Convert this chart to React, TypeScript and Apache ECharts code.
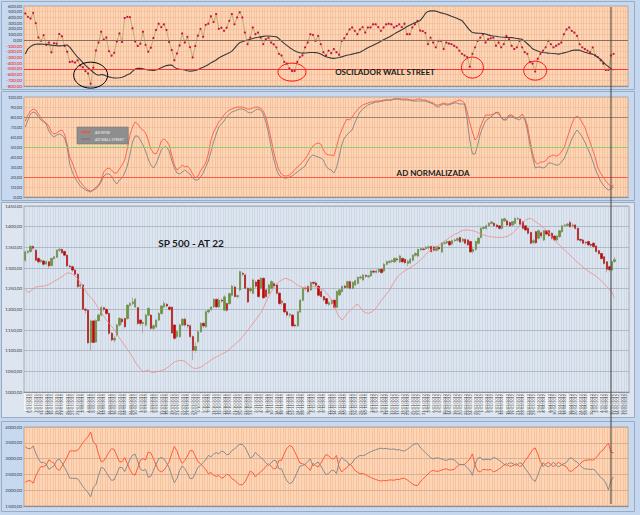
import React, { useEffect, useRef } from "react";
import * as echarts from "echarts";

const CATEGORY_COUNT = 231;

function tradingDays(n: number): string[] {
  const out: string[] = [];
  const d = new Date(Date.UTC(2011, 6, 1));
  while (out.length < n) {
    const wd = d.getUTCDay();
    if (wd !== 0 && wd !== 6) {
      out.push(`${d.getUTCDate()}/${String(d.getUTCMonth() + 1).padStart(2, "0")}/${d.getUTCFullYear()}`);
    }
    d.setUTCDate(d.getUTCDate() + 1);
  }
  return out;
}
const DATES = tradingDays(CATEGORY_COUNT);

// Panel 1: Oscilador Wall Street (points) and its smooth average
const OSC = [
  470, 410, 380, 480, 300, 50, -10, 90, -80, -40,
  -210, -50, -60, 110, 70, -100, -200, -380, -370, -390,
  -350, -440, -470, -540, -580, -760, -480, -180, -40, 150,
  10, 50, -190, -270, -220, -20, 120, -30, 390, 410,
  405, 210, -20, -100, -60, 150, -80, -200, -130, 40,
  180, 290, 230, 280, 180, -30, -170, -350, -230, -90,
  120, -40, 60, -120, -300, -100, 80, 200, 60, 270,
  290, 420, 320, 460, 200,
  220, 165, 220, 340, 460, 280, 400, 490, 400, 135,
  -68, 47, 224, 106, 135, 47, -68, 18, 45, -40,
  -70, -124, -237, -265, -378, -407, -492, -537, -537, -378,
  -294, -265, -124, -40, 106, 94, -11, 77, -68, -209,
  -265, -181, -226, -153, -209, -254, -11, 35, 106, 190,
  224, 165, 106, 190, 230, 135, 224, 224, 280, 280,
  230, 165, 224, 280, 290, 280, 224, 250, 280, 230,
  290, 106, 106, 224, 280, 340,
  170, 160, 130, -68, 47, -40, -124, -11, -11,
  -153, -40, -57, -68, -96, -124, -181, -237, -265, -294,
  -463, -237, -124, -11, 47, 106, -40, 18, 35, 47,
  -96, -40, -124, -68, 77, 18, -96, -153, -124, -11,
  -124, -209, -237, -378, -407, -548, -322, -237, -181, -124,
  -11, -68, -124, -96, -68, -40, 106, 190, 224, 165,
  135, 77, -68, -124, -153, -181, -209, -124, -265, -294,
  -350, -407, -520, -520, -265, -237,
];

const OSC_AVG = [
  -240, -150, -110, -80, -70, -68, -68, -70, -72, -78,
  -85, -90, -94, -97, -95, -88, -82, -120, -180, -240,
  -295, -340, -390, -440, -480, -520, -560, -595, -612, -600,
  -605, -625, -640, -650, -658, -660, -656, -648, -630, -605,
  -585, -545, -505, -492, -490, -500, -510, -518, -525, -528,
  -518, -503, -480, -458, -443, -435, -432, -470, -500, -506,
  -512, -520, -532, -540, -536, -530, -515, -490, -471, -450,
  -425, -395, -370, -345, -310, -285, -262, -242, -220, -190,
  -140, -85, -40, -25, -8, 5, 18, 32, 45, 52,
  60, 68, 75, 74, 70, 66, 62, 30, -15, -55,
  -90, -125, -155, -185, -205, -218, -224, -222, -218, -215,
  -213, -216, -222, -240, -265, -288, -300, -312, -316, -310,
  -302, -290, -275, -262, -253, -242, -230, -220, -210, -185,
  -158, -132, -110, -88, -65, -42, -18, 8, 32, 55,
  80, 108, 135, 160, 185, 212, 240, 265, 285, 305,
  325, 345, 400, 470, 505, 514, 518, 510, 495, 480,
  470, 455, 440, 422, 405, 385, 365, 345, 290, 230,
  175, 135, 130, 126, 123, 120, 110, 95, 82, 75,
  70, 63, 57, 54, 51, 48, 46, 40, 32, 24,
  17, -20, -60, -100, -150, -170, -188, -205, -213, -218,
  -224, -228, -231, -236, -242, -232, -220, -210, -195, -178,
  -172, -172, -173, -190, -210, -222, -234, -242, -268, -300,
  -330, -380, -425, -460, -500, -520,
];

// Panel 2: AD normalizada
const AD_NYSE = [
  76, 82, 86, 88, 87, 83, 79, 76, 74, 71,
  65, 63, 64, 66, 67, 63, 53, 40, 34, 27,
  20, 15, 12, 9, 7, 6, 7, 10, 12, 17,
  25, 28, 29, 27, 24, 24, 28, 32, 37, 48,
  62, 70, 75, 73, 69, 67, 64, 57, 48, 44,
  43, 48, 56, 58, 56, 52, 42, 32, 27, 29,
  32, 30, 31, 28, 23, 19, 21, 26, 30, 34,
  43, 57, 65, 70, 75,
  78, 82, 85, 87, 88, 89, 90, 90, 90, 89,
  88, 88, 89, 90, 90, 89, 86, 80, 70, 58,
  45, 35, 27, 23, 21, 21, 22, 24, 27, 30,
  32, 35, 38, 42, 47, 51, 53, 54, 53, 47,
  43, 42, 42, 41, 50, 60, 67, 73, 78, 77,
  80, 84, 87, 90, 92, 93, 94, 95, 95, 96,
  96, 96, 97, 97, 97, 97, 98, 98, 98, 98,
  98, 98, 97, 97, 97, 98, 98, 97, 97, 96,
  95, 94, 92, 92, 93, 94, 93, 93, 94, 95,
  96, 97, 96, 94, 85, 74, 65, 57, 60, 70,
  76, 82, 82, 82, 83, 84, 85, 79, 77, 79,
  82, 82, 80, 79, 80, 83, 79, 72, 57, 44,
  35, 33, 35, 35, 36, 40, 41, 42, 41, 42,
  45, 49, 57, 65, 73, 79, 81, 79, 74, 70,
  62, 55, 47, 39, 29, 24, 20, 16, 13, 10,
  12,
];

const AD_WALL_STREET = [
  70, 77, 83, 85, 84, 80, 77, 75, 73, 66,
  62, 60, 62, 63, 62, 59, 50, 33, 25, 19,
  15, 11, 9, 7, 6, 5, 7, 8, 11, 15,
  21, 23, 23, 21, 16, 13, 17, 19, 24, 31,
  42, 55, 61, 61, 57, 52, 46, 38, 32, 29,
  33, 40, 47, 50, 50, 46, 37, 29, 24, 23,
  25, 27, 25, 23, 19, 17, 17, 20, 24, 30,
  36, 45, 55, 63, 70,
  73, 76, 80, 83, 85, 86, 87, 88, 88, 87,
  85, 84, 85, 87, 88, 87, 83, 75, 64, 50,
  38, 28, 22, 20, 19, 19, 20, 21, 23, 25,
  27, 29, 31, 36, 40, 42, 41, 40, 39, 37,
  31, 28, 27, 24, 29, 40, 52, 59, 62, 65,
  67, 74, 80, 85, 88, 90, 92, 93, 94, 95,
  95, 96, 96, 97, 97, 97, 98, 98, 98, 97,
  97, 97, 97, 96, 96, 96, 96, 96, 96, 95,
  94, 93, 91, 90, 92, 93, 92, 92, 93, 94,
  94, 93, 93, 93, 77, 57, 43, 43, 52, 63,
  70, 76, 78, 80, 82, 85, 83, 80, 77, 77,
  81, 81, 79, 78, 77, 80, 78, 67, 52, 40,
  29, 30, 30, 29, 30, 34, 34, 33, 32, 32,
  35, 38, 44, 51, 58, 63, 67, 64, 60, 55,
  49, 43, 36, 28, 22, 16, 12, 9, 7, 8,
  10,
];

// Panel 3: SP 500 daily candles [open, close, low, high] and AT 22 line
const SP500_OHLC: [number, number, number, number][] = [
  [1319, 1339, 1315, 1342], [1338, 1340, 1334, 1344], [1340, 1352, 1337, 1356], [1352, 1348, 1344, 1355],
  [1343, 1319, 1316, 1346], [1323, 1315, 1311, 1326], [1316, 1319, 1312, 1322], [1317, 1309, 1305, 1320],
  [1310, 1315, 1307, 1318], [1315, 1305, 1299, 1317], [1306, 1323, 1304, 1325], [1323, 1327, 1320, 1330],
  [1326, 1343, 1324, 1345], [1343, 1345, 1339, 1348], [1345, 1337, 1334, 1347], [1340, 1331, 1328, 1342],
  [1331, 1305, 1302, 1333], [1305, 1303, 1298, 1308], [1303, 1295, 1290, 1306], [1295, 1285, 1281, 1298],
  [1285, 1255, 1252, 1287], [1256, 1259, 1250, 1262], [1259, 1200, 1198, 1261], [1200, 1198, 1190, 1204],
  [1198, 1119, 1117, 1200], [1120, 1172, 1101, 1175], [1172, 1120, 1118, 1174], [1121, 1173, 1119, 1176],
  [1173, 1186, 1170, 1190], [1186, 1204, 1183, 1208], [1204, 1200, 1195, 1206], [1200, 1190, 1186, 1203],
  [1190, 1142, 1138, 1192], [1142, 1126, 1122, 1145], [1126, 1130, 1120, 1136], [1138, 1162, 1134, 1165],
  [1162, 1178, 1158, 1181], [1176, 1170, 1164, 1180], [1178, 1158, 1154, 1180], [1178, 1210, 1175, 1212],
  [1210, 1214, 1206, 1218], [1214, 1218, 1210, 1229], [1206, 1224, 1203, 1227], [1204, 1166, 1162, 1206],
  [1174, 1166, 1160, 1177], [1166, 1168, 1142, 1171], [1162, 1186, 1158, 1189], [1186, 1202, 1183, 1205],
  [1186, 1154, 1150, 1188], [1154, 1160, 1148, 1164], [1158, 1174, 1155, 1176], [1174, 1190, 1171, 1193],
  [1190, 1208, 1187, 1210], [1206, 1214, 1203, 1220], [1212, 1208, 1204, 1216], [1205, 1200, 1196, 1208],
  [1205, 1143, 1140, 1207], [1162, 1130, 1126, 1164], [1134, 1146, 1130, 1150], [1134, 1162, 1131, 1165],
  [1162, 1176, 1159, 1178], [1176, 1162, 1158, 1180], [1162, 1160, 1154, 1165], [1160, 1134, 1130, 1163],
  [1134, 1101, 1077, 1137], [1101, 1110, 1095, 1120], [1122, 1146, 1118, 1148], [1146, 1166, 1143, 1169],
  [1166, 1160, 1155, 1170], [1158, 1194, 1155, 1197], [1194, 1198, 1190, 1202], [1200, 1205, 1196, 1208],
  [1206, 1224, 1203, 1227], [1224, 1206, 1202, 1227], [1206, 1222, 1203, 1228],
  [1222, 1220, 1216, 1226], [1198, 1230, 1196, 1234], [1214, 1198, 1194, 1216], [1214, 1238, 1211, 1240],
  [1234, 1256, 1231, 1259], [1254, 1231, 1228, 1258], [1231, 1233, 1226, 1236], [1247, 1291, 1244, 1293],
  [1287, 1285, 1280, 1291], [1283, 1251, 1248, 1286], [1251, 1218, 1215, 1253], [1245, 1250, 1240, 1254],
  [1239, 1271, 1236, 1274], [1266, 1256, 1252, 1270], [1271, 1231, 1228, 1273], [1251, 1275, 1248, 1278],
  [1275, 1228, 1225, 1277], [1247, 1231, 1228, 1250], [1239, 1259, 1236, 1262], [1251, 1267, 1248, 1270],
  [1262, 1257, 1252, 1266], [1259, 1239, 1236, 1262], [1239, 1214, 1211, 1241], [1216, 1220, 1210, 1224],
  [1214, 1194, 1190, 1216], [1194, 1186, 1182, 1197], [1186, 1188, 1180, 1191], [1186, 1160, 1157, 1189],
  [1162, 1160, 1156, 1166], [1160, 1194, 1157, 1196], [1194, 1222, 1191, 1225], [1222, 1251, 1219, 1253],
  [1251, 1250, 1245, 1256], [1255, 1243, 1240, 1258], [1247, 1265, 1244, 1268], [1265, 1263, 1259, 1268],
  [1264, 1258, 1254, 1268], [1256, 1234, 1231, 1259], [1243, 1231, 1228, 1246], [1231, 1223, 1219, 1233],
  [1226, 1214, 1210, 1228], [1212, 1216, 1208, 1220], [1214, 1222, 1211, 1224], [1222, 1205, 1202, 1224],
  [1205, 1243, 1203, 1246], [1235, 1247, 1232, 1250], [1243, 1255, 1240, 1258], [1256, 1253, 1250, 1260],
  [1253, 1267, 1250, 1269], [1267, 1251, 1248, 1270], [1251, 1265, 1248, 1268], [1259, 1269, 1256, 1272],
  [1263, 1277, 1260, 1280], [1276, 1278, 1272, 1282], [1271, 1283, 1268, 1286], [1282, 1280, 1276, 1285],
  [1279, 1281, 1275, 1284], [1281, 1293, 1278, 1296], [1292, 1290, 1287, 1296], [1290, 1293, 1287, 1296],
  [1291, 1297, 1288, 1300], [1297, 1289, 1286, 1299], [1293, 1309, 1290, 1312], [1309, 1315, 1306, 1318],
  [1314, 1316, 1311, 1319], [1316, 1318, 1312, 1321], [1315, 1323, 1312, 1326], [1322, 1320, 1316, 1326],
  [1315, 1329, 1312, 1332], [1323, 1315, 1312, 1326], [1321, 1313, 1309, 1323], [1311, 1316, 1304, 1320],
  [1313, 1321, 1310, 1324], [1319, 1331, 1316, 1333], [1331, 1335, 1328, 1338], [1329, 1345, 1326, 1347],
  [1344, 1347, 1341, 1350], [1346, 1345, 1342, 1349], [1347, 1350, 1344, 1353], [1349, 1351, 1345, 1355],
  [1352, 1340, 1337, 1354],
  [1351, 1343, 1340, 1354], [1343, 1351, 1340, 1354], [1350, 1346, 1342, 1353], [1339, 1360, 1336, 1362],
  [1360, 1361, 1357, 1364], [1361, 1364, 1358, 1367], [1364, 1356, 1352, 1367], [1358, 1366, 1355, 1369],
  [1366, 1368, 1363, 1371], [1367, 1371, 1364, 1374], [1374, 1363, 1360, 1376], [1365, 1370, 1362, 1373],
  [1369, 1360, 1357, 1372], [1368, 1356, 1353, 1370], [1364, 1339, 1336, 1366], [1340, 1345, 1335, 1352],
  [1345, 1364, 1342, 1366], [1360, 1372, 1357, 1374], [1374, 1396, 1371, 1398], [1396, 1398, 1393, 1401],
  [1396, 1402, 1393, 1405], [1402, 1408, 1399, 1411], [1408, 1411, 1405, 1414], [1408, 1402, 1399, 1411],
  [1404, 1400, 1396, 1407], [1402, 1396, 1393, 1404], [1396, 1418, 1393, 1420], [1414, 1419, 1411, 1422],
  [1414, 1404, 1401, 1417], [1410, 1402, 1399, 1412], [1404, 1412, 1401, 1414], [1408, 1420, 1405, 1422],
  [1419, 1420, 1416, 1423], [1418, 1406, 1403, 1420], [1412, 1396, 1393, 1414], [1402, 1392, 1389, 1404],
  [1396, 1384, 1381, 1398], [1386, 1360, 1357, 1388], [1362, 1366, 1358, 1370], [1388, 1361, 1358, 1390],
  [1372, 1390, 1369, 1393], [1385, 1378, 1372, 1388], [1368, 1390, 1365, 1392], [1390, 1382, 1379, 1392],
  [1390, 1378, 1375, 1392], [1384, 1372, 1369, 1386], [1377, 1368, 1365, 1380], [1368, 1377, 1365, 1380],
  [1376, 1390, 1373, 1392], [1388, 1402, 1385, 1404], [1402, 1404, 1399, 1407], [1403, 1406, 1400, 1409],
  [1410, 1400, 1397, 1415], [1402, 1404, 1398, 1408], [1404, 1396, 1393, 1406], [1396, 1368, 1365, 1398],
  [1369, 1367, 1362, 1372], [1368, 1360, 1357, 1370], [1362, 1361, 1356, 1365], [1364, 1356, 1353, 1366],
  [1357, 1355, 1350, 1360], [1360, 1352, 1349, 1362], [1353, 1340, 1337, 1355], [1342, 1335, 1332, 1344],
  [1335, 1323, 1320, 1337], [1327, 1311, 1308, 1329], [1315, 1297, 1290, 1317], [1303, 1296, 1292, 1306],
  [1295, 1315, 1292, 1318], [1316, 1320, 1312, 1327],
];

const SP500_AT22 = [
  1248, 1241, 1244, 1250, 1254, 1255, 1256, 1256, 1258, 1260,
  1264, 1268, 1271, 1275, 1279, 1284, 1288, 1288, 1285, 1281,
  1274, 1265, 1255, 1245, 1235, 1229, 1222, 1212, 1201, 1193,
  1183, 1174, 1166, 1158, 1151, 1140, 1130, 1121, 1112, 1103,
  1094, 1084, 1072, 1064, 1055, 1049, 1051, 1053, 1048, 1047,
  1049, 1050, 1052, 1054, 1058, 1062, 1068, 1073, 1075, 1076,
  1076, 1074, 1069, 1063, 1058, 1057, 1058, 1060, 1064, 1069,
  1073, 1078, 1082, 1085, 1088, 1092, 1095, 1098, 1104, 1110,
  1115, 1121, 1126, 1134, 1142, 1150, 1158, 1167, 1175, 1184,
  1192, 1205, 1220, 1232, 1243, 1253, 1262, 1267, 1271, 1275,
  1274, 1271, 1268, 1263, 1258, 1255, 1253, 1251, 1252, 1253,
  1255, 1254, 1252, 1249, 1246, 1240, 1231, 1222, 1207, 1192,
  1180, 1174, 1182, 1191, 1197, 1203, 1210, 1212, 1204, 1195,
  1192, 1190, 1193, 1197, 1204, 1213, 1222, 1230, 1238, 1246,
  1257, 1268, 1278, 1284, 1289, 1294, 1297, 1301, 1305, 1309,
  1314, 1320, 1326, 1333, 1340, 1344, 1346, 1350, 1355, 1360,
  1365, 1369, 1374, 1378, 1382, 1384, 1388, 1391, 1392, 1392,
  1391, 1390, 1388, 1385, 1382, 1380, 1378, 1376, 1375, 1375,
  1374, 1374, 1374, 1375, 1376, 1380, 1384, 1390, 1397, 1404,
  1410, 1416, 1419, 1420, 1416, 1411, 1407, 1403, 1396, 1390,
  1385, 1375, 1368, 1362, 1355, 1349, 1343, 1337, 1331, 1325,
  1318, 1313, 1308, 1302, 1297, 1292, 1288, 1284, 1280, 1274,
  1269, 1262, 1255, 1249, 1241, 1227,
];

// Panel 4: two mirrored breadth lines
const BREADTH_RED = [
  2250, 2300, 2300, 2220, 2450, 2620, 2750, 2740, 2800, 2960,
  2900, 2850, 2680, 2628, 2750, 2900, 3050, 3240, 3245, 3240,
  3260, 3370, 3500, 3600, 3700, 3840, 3525, 3450, 3150, 2900,
  2930, 3060, 3200, 3314, 3290, 3100, 2900, 2900, 3030, 2850,
  2650, 2510, 2480, 2700, 2950, 3000, 2960, 3209, 3180, 3000,
  2800, 2628, 2580, 2630, 2750, 2900, 3156, 3380, 3250, 3000,
  2850, 2940, 3080, 3250, 3250, 3080, 2900, 2840, 2750, 2660,
  2523, 2560, 2480, 2430, 2470, 2380, 2410, 2500, 2480, 2365,
  2320, 2230, 2170, 2170, 2260, 2420, 2600, 2560, 2420, 2510,
  2580, 2650, 2750, 2840, 2760, 2670, 2700, 2945, 2945, 3150,
  3320, 3410, 3380, 3230, 3050, 2860, 2840, 2800, 2720, 2628,
  2850, 2780, 2734,
  2850, 2998, 3130, 3090, 3000, 2990, 3100, 2730, 2576, 2660,
  2710, 2830, 2760, 2630, 2570, 2523, 2530, 2500, 2450, 2410,
  2370, 2340, 2310, 2290, 2310, 2295, 2320, 2325, 2315, 2344,
  2335, 2370, 2380, 2330, 2270, 2200, 2160, 2140, 2260, 2350,
  2430, 2510, 2590, 2628, 2600, 2600, 2630, 2655, 2680, 2640,
  2640, 2660, 2734, 2820, 2810, 2820, 2900, 2990, 3150, 2800,
  2610, 2576, 2660, 2650, 2640, 2660, 2576, 2610, 2660, 2720,
  2790, 2840, 2760, 2760, 2800, 2840, 2750, 2780, 2920, 3020,
  3150, 3280, 3340, 3150, 2900, 2750, 2830, 2880, 2820, 2734,
  2830, 2880, 2820, 2780, 2740, 2610, 2600, 2680, 2734, 2820,
  2900, 2945, 2950, 2966, 2950, 3000, 3100, 3215, 3275, 3390,
  3490, 3200, 3188,
];

const BREADTH_GRAY = [
  3370, 3320, 3310, 3400, 3170, 3000, 2870, 2880, 2820, 2660,
  2720, 2770, 2940, 2990, 2870, 2720, 2570, 2380, 2375, 2380,
  2360, 2250, 2120, 2020, 1920, 1790, 2090, 2170, 2470, 2720,
  2690, 2560, 2420, 2310, 2330, 2520, 2720, 2720, 2590, 2770,
  2970, 3110, 3140, 2920, 2670, 2620, 2660, 2410, 2440, 2620,
  2820, 2990, 3040, 2990, 2870, 2720, 2460, 2240, 2370, 2620,
  2770, 2680, 2540, 2370, 2370, 2540, 2720, 2780, 2870, 2960,
  3100, 3060, 3140, 3190, 3150, 3240, 3210, 3120, 3140, 3255,
  3300, 3390, 3450, 3450, 3360, 3200, 3020, 3060, 3200, 3110,
  3040, 2970, 2870, 2780, 2860, 2950, 2920, 2675, 2675, 2470,
  2300, 2210, 2240, 2390, 2570, 2760, 2780, 2820, 2900, 2990,
  2770, 2840, 2890, 2770, 2620, 2490, 2530, 2620, 2630, 2520,
  2890, 3040, 2960, 2910, 2790, 2860, 2990, 3050, 3100, 3090,
  3120, 3170, 3210, 3250, 3280, 3310, 3330, 3310, 3325, 3300,
  3295, 3305, 3275, 3285, 3250, 3240, 3290, 3350, 3420, 3460,
  3480, 3360, 3270, 3190, 3110, 3030, 2990, 3020, 3020, 2990,
  2965, 2940, 2980, 2980, 2960, 2890, 2800, 2810, 2800, 2720,
  2630, 2470, 2820, 3010, 3040, 2960, 2970, 2980, 2960, 3040,
  3010, 2960, 2900, 2830, 2780, 2860, 2860, 2820, 2780, 2870,
  2840, 2700, 2600, 2470, 2340, 2280, 2470, 2720, 2870, 2790,
  2740, 2800, 2890, 2790, 2740, 2800, 2840, 2880, 3010, 3020,
  2940, 2890, 2800, 2720, 2675, 2670, 2655, 2670, 2620, 2520,
  2405, 2345, 2230, 2010, 2300, 2420,
];

// Axis ranges (tick labels)
const Y_OSC = { min: -800, max: 600, interval: 100 };
const Y_AD = { min: 0, max: 100, interval: 10 };
const Y_SP = { min: 1000, max: 1450, interval: 50 };
const Y_BR = { min: 1500, max: 4000, interval: 500 };

// Reference levels
const OSC_LEVELS = [0, -500];
const AD_LEVELS = [80, 50, 20];

// Marker for "today"
const TODAY_INDEX = 224;

// Annotated lows in the oscillator: [category index, value]
const OSC_MARKS: { at: [number, number]; color: string; rx: number; ry: number }[] = [
  { at: [24.5, -610], color: "#000000", rx: 17, ry: 13 },
  { at: [102.4, -557], color: "#ff1010", rx: 14, ry: 9 },
  { at: [171, -478], color: "#ff1010", rx: 11, ry: 10.5 },
  { at: [194.8, -531], color: "#ff1010", rx: 11.5, ry: 9.5 },
];

const fmt = (v: number | string) => Number(v).toFixed(2).replace(".", ",");
const FONT = "Lato";
const ORANGE_BG = "#fcd6b7";
const ORANGE_V = "#f3b086";
const BLUE_BG = "#dce5f0";

export default function App() {
  const ref = useRef<HTMLDivElement>(null);

  useEffect(() => {
    document.body.style.margin = "0";
    const chart = echarts.init(ref.current!, null, { renderer: "svg" });

    const grids = [
      { left: 24, top: 6, width: 604, height: 80, bg: ORANGE_BG },
      { left: 24, top: 97, width: 604, height: 100, bg: ORANGE_BG },
      { left: 24, top: 206, width: 605, height: 186, bg: BLUE_BG },
      { left: 24, top: 427, width: 604, height: 79, bg: ORANGE_BG },
    ];

    const xAxis = grids.map((_, g) => ({
      type: "category",
      gridIndex: g,
      data: DATES,
      boundaryGap: true,
      axisLine: { show: true, onZero: false, lineStyle: { color: "#7a7a7a", width: 0.6 } },
      axisTick: { show: true, interval: 0, length: 1.5, lineStyle: { color: "#7a7a7a", width: 0.4 } },
      axisLabel:
        g === 2
          ? {
              show: true,
              interval: (i: number) => i % 4 !== 3,
              rotate: 90,
              fontSize: 3.8,
              fontFamily: FONT,
              color: "#505050",
              margin: 2,
            }
          : { show: false },
      splitLine: {
        show: true,
        interval: 0,
        lineStyle: g === 2 ? { color: "#a9b5c6", width: 0.5, type: "dotted" } : { color: ORANGE_V, width: 0.5 },
      },
    }));

    const yBase = (g: number, r: { min: number; max: number; interval: number }, split: string, splitW: number) => ({
      type: "value",
      gridIndex: g,
      min: r.min,
      max: r.max,
      interval: r.interval,
      axisLine: { show: false },
      axisTick: { show: false },
      axisLabel: { fontSize: 4.5, fontFamily: FONT, color: "#3a3a3a", margin: 2, formatter: fmt },
      splitLine: { show: true, lineStyle: { color: split, width: splitW } },
    });

    const yAxis: any[] = [
      yBase(0, Y_OSC, "#e9b796", 0.5),
      yBase(1, Y_AD, "#e5b393", 0.5),
      yBase(2, Y_SP, "#a7afbb", 0.8),
      yBase(3, Y_BR, "#c9a68e", 0.8),
    ];
    yAxis[0].axisLabel.color = (v: any) => (Number(v) < 0 ? "#ff0000" : "#3a3a3a");

    const levelLine = (vals: number[], colors: string[], width: number) => ({
      silent: true,
      symbol: ["none", "none"],
      label: { show: false },
      animation: false,
      data: vals.map((v, k) => ({ yAxis: v, lineStyle: { color: colors[k], width, type: "solid" } })),
    });

    const option: any = {
      animation: false,
      backgroundColor: "#c4d7ee",
      textStyle: { fontFamily: FONT },
      grid: grids.map((g) => ({
        left: g.left,
        top: g.top,
        width: g.width,
        height: g.height,
        show: true,
        backgroundColor: g.bg,
        borderColor: "#8a8a8a",
        borderWidth: 0.6,
        containLabel: false,
      })),
      legend: {
        left: 77,
        top: 127,
        orient: "vertical",
        backgroundColor: "#8e8e8e",
        borderColor: "#6e6e6e",
        borderWidth: 0.5,
        padding: [3, 4],
        itemGap: 3,
        itemWidth: 9,
        itemHeight: 1.5,
        icon: "rect",
        textStyle: { fontSize: 3.6, color: "#f2f2f2", fontFamily: FONT },
        data: ["AD NYSE", "AD WALL STREET"],
      },
      xAxis,
      yAxis,
      series: [
        {
          name: "Oscilador",
          type: "line",
          xAxisIndex: 0,
          yAxisIndex: 0,
          data: OSC,
          symbol: "circle",
          symbolSize: 2.2,
          showAllSymbol: true,
          itemStyle: { color: "#cc1144" },
          lineStyle: { color: "#bfa866", width: 0.9 },
          markLine: levelLine(OSC_LEVELS, ["#8b6e5e", "#ff3434"], 1),
          z: 3,
        },
        {
          name: "Media",
          type: "line",
          xAxisIndex: 0,
          yAxisIndex: 0,
          data: OSC_AVG,
          symbol: "none",
          lineStyle: { color: "#383838", width: 1.1 },
          z: 4,
        },
        {
          name: "AD NYSE",
          type: "line",
          xAxisIndex: 1,
          yAxisIndex: 1,
          data: AD_NYSE,
          symbol: "none",
          itemStyle: { color: "#ff4b3a" },
          lineStyle: { color: "#ff4b3a", width: 0.8 },
          markLine: levelLine(AD_LEVELS, ["#9c8476", "#8fcf66", "#ff5a4a"], 1),
        },
        {
          name: "AD WALL STREET",
          type: "line",
          xAxisIndex: 1,
          yAxisIndex: 1,
          data: AD_WALL_STREET,
          symbol: "none",
          itemStyle: { color: "#7a7a7a" },
          lineStyle: { color: "#7a7a7a", width: 0.8 },
        },
        {
          name: "wicks",
          type: "candlestick",
          xAxisIndex: 2,
          yAxisIndex: 2,
          data: SP500_OHLC.map(([o, c, l, h]) => [o, c, l, h]),
          barWidth: 1.8,
          itemStyle: {
            color: "#a3a3a3",
            color0: "#a3a3a3",
            borderColor: "#a3a3a3",
            borderColor0: "#a3a3a3",
            borderWidth: 0.8,
          },
        },
        {
          name: "bodies",
          type: "candlestick",
          xAxisIndex: 2,
          yAxisIndex: 2,
          data: SP500_OHLC.map(([o, c]) => [o, c, Math.min(o, c), Math.max(o, c)]),
          barWidth: 1.8,
          itemStyle: {
            color: "#6f9a3a",
            color0: "#d10000",
            borderColor: "#5e8a2e",
            borderColor0: "#b30000",
            borderWidth: 0.4,
          },
        },
        {
          name: "AT 22",
          type: "line",
          xAxisIndex: 2,
          yAxisIndex: 2,
          data: SP500_AT22,
          symbol: "none",
          lineStyle: { color: "#f08a8a", width: 0.8 },
        },
        {
          name: "Breadth A",
          type: "line",
          xAxisIndex: 3,
          yAxisIndex: 3,
          data: BREADTH_RED,
          symbol: "none",
          lineStyle: { color: "#ff5a3a", width: 1 },
        },
        {
          name: "Breadth B",
          type: "line",
          xAxisIndex: 3,
          yAxisIndex: 3,
          data: BREADTH_GRAY,
          symbol: "none",
          lineStyle: { color: "#8a8a8a", width: 1 },
        },
      ],
    };

    chart.setOption(option);

    const px = (g: number, i: number, v: number) => chart.convertToPixel({ gridIndex: g }, [i, v]) as number[];
    const todayX = px(0, TODAY_INDEX, 0)[0];
    const top = px(0, TODAY_INDEX, Y_OSC.max)[1];
    const bottom = px(3, TODAY_INDEX, Y_BR.min)[1];

    const frame = (x: number, y: number, w: number, h: number, fill: string) => ({
      type: "rect",
      z: -100,
      silent: true,
      shape: { x, y, width: w, height: h },
      style: { fill, stroke: "#9aabc2", lineWidth: 1 },
    });

    const title = (text: string, x: number, y: number, size: number) => ({
      type: "text",
      z: 100,
      silent: true,
      x,
      y,
      style: {
        text,
        fill: "#1a1a1a",
        fontSize: size,
        fontWeight: "bold",
        fontFamily: FONT,
        align: "center",
        verticalAlign: "middle",
      },
    });

    chart.setOption({
      graphic: [
        frame(1.5, 1.5, 633, 88, "#c6d9f0"),
        frame(1.5, 91.5, 633, 109, "#c6d9f0"),
        frame(1.5, 202.5, 633, 215, "#dce5f0"),
        frame(1.5, 421.5, 633, 90, "#c6d9f0"),
        {
          type: "rect",
          z: -50,
          silent: true,
          shape: { x: 24, y: 393, width: 595, height: 18 },
          style: { fill: "#f1f4f9" },
        },
        title("OSCILADOR WALL STREET", 385, 71.5, 8),
        title("AD NORMALIZADA", 433, 173, 8),
        title("SP 500 - AT 22", 191, 242.5, 10),
        ...OSC_MARKS.map((m) => {
          const [cx, cy] = px(0, m.at[0], m.at[1]);
          return {
            type: "ellipse",
            z: 100,
            silent: true,
            shape: { cx, cy, rx: m.rx, ry: m.ry },
            style: { fill: "none", stroke: m.color, lineWidth: 1 },
          };
        }),
        {
          type: "line",
          z: 100,
          silent: true,
          shape: { x1: todayX, y1: top + 1, x2: todayX, y2: bottom - 2 },
          style: { stroke: "#404040", lineWidth: 1 },
        },
      ],
    });

    return () => chart.dispose();
  }, []);

  return <div ref={ref} style={{ width: 640, height: 515 }} />;
}
